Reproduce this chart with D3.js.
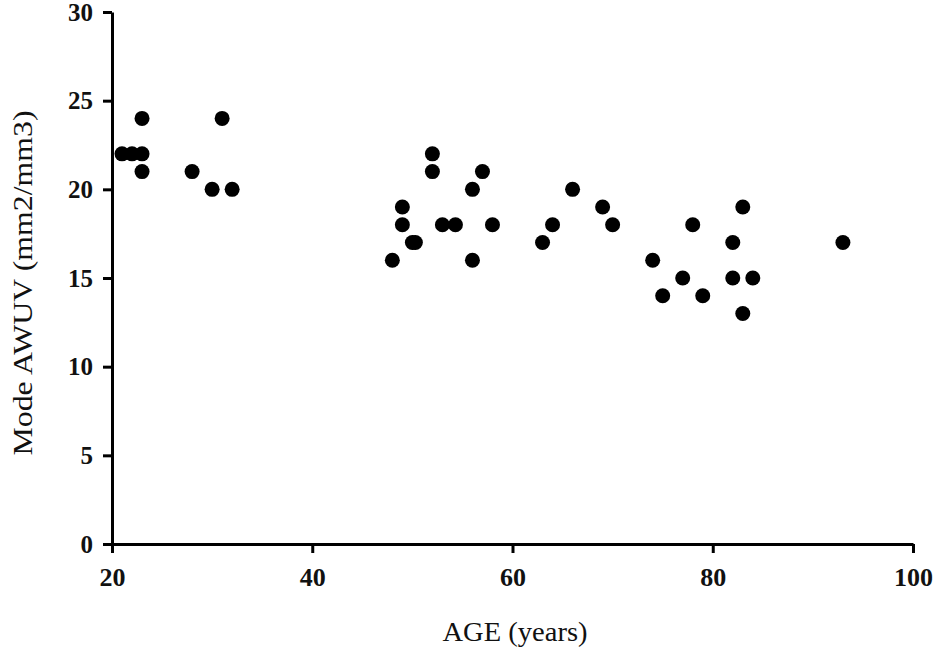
<!DOCTYPE html>
<html>
<head>
<meta charset="utf-8">
<script src="https://cdn.jsdelivr.net/npm/d3@7"></script>
<style>
  html, body { margin: 0; padding: 0; background: #fff; }
  svg { display: block; }
  .tick text { font-family: "Liberation Serif", "DejaVu Serif", serif; font-weight: bold; fill: #111; }
  .axis path, .axis line { stroke: #000; stroke-width: 3; }
  .title { font-family: "Liberation Serif", "DejaVu Serif", serif; fill: #111; }
</style>
</head>
<body>
<svg id="chart" width="934" height="653"></svg>
<script>
// Age (years) of each subject
const ages = [
  23, 31, 21, 22, 23, 23, 28, 30, 32,
  52, 52, 57, 56, 49, 49, 53, 54.3, 58, 50, 50.3, 48, 56,
  66, 69, 70, 64, 63,
  83, 78, 82, 74, 77, 82, 84, 75, 79, 83, 93
];
// Mode AWUV (mm2/mm3) for each subject
const awuv = [
  24, 24, 22, 22, 22, 21, 21, 20, 20,
  22, 21, 21, 20, 19, 18, 18, 18, 18, 17, 17, 16, 16,
  20, 19, 18, 18, 17,
  19, 18, 17, 16, 15, 15, 15, 14, 14, 13, 17
];
const xTicks = [20, 40, 60, 80, 100];
const yTicks = [0, 5, 10, 15, 20, 25, 30];

const svg = d3.select("#chart");

const x = d3.scaleLinear().domain([20, 100]).range([112, 913]);
const y = d3.scaleLinear().domain([0, 30]).range([544, 12]);

// x axis
svg.append("g")
  .attr("class", "axis")
  .attr("transform", `translate(0,${y(0)})`)
  .call(d3.axisBottom(x).tickValues(xTicks).tickSize(9).tickPadding(15).tickSizeOuter(0))
  .call(g => g.selectAll(".tick text").attr("font-size", 26));

// y axis
svg.append("g")
  .attr("class", "axis")
  .attr("transform", `translate(${x(20)},0)`)
  .call(d3.axisLeft(y).tickValues(yTicks).tickSize(9).tickPadding(10).tickSizeOuter(0))
  .call(g => g.selectAll(".tick text").attr("font-size", 25));

// points
svg.append("g")
  .selectAll("circle")
  .data(ages.map((a, i) => ({ age: a, v: awuv[i] })))
  .join("circle")
  .attr("cx", d => x(d.age))
  .attr("cy", d => y(d.v))
  .attr("r", 7.5)
  .attr("fill", "#000");

// axis titles
svg.append("text")
  .attr("class", "title")
  .attr("x", 515).attr("y", 641)
  .attr("text-anchor", "middle")
  .attr("font-size", 27)
  .attr("textLength", 145)
  .attr("lengthAdjust", "spacingAndGlyphs")
  .text("AGE (years)");

svg.append("text")
  .attr("class", "title")
  .attr("transform", `translate(32,${283}) rotate(-90)`)
  .attr("text-anchor", "middle")
  .attr("font-size", 27)
  .attr("textLength", 345)
  .attr("lengthAdjust", "spacingAndGlyphs")
  .text("Mode AWUV (mm2/mm3)");
</script>
</body>
</html>
